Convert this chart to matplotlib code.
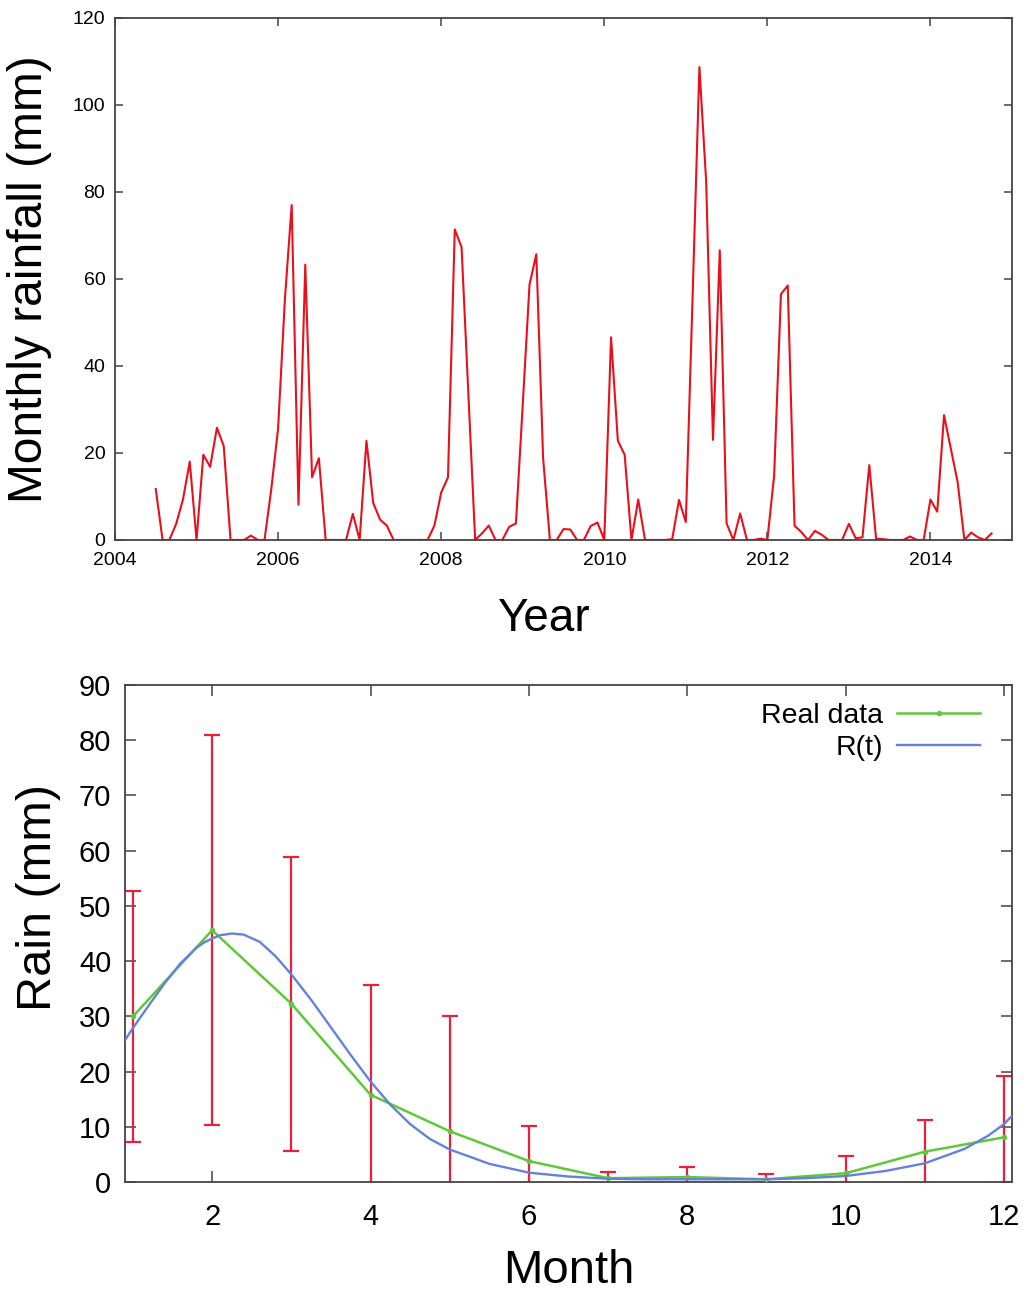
import numpy as np

import matplotlib
matplotlib.use('Agg')
matplotlib.rcParams['font.family'] = ['Liberation Sans', 'DejaVu Sans']
matplotlib.rcParams['axes.linewidth'] = 1.3
matplotlib.rcParams['axes.edgecolor'] = '#444444'
import matplotlib.pyplot as plt

# monthly rainfall (mm), series starts July 2004, ends October 2014
rain2004 = [11.7, 0, 0, 3.7, 9.3, 18.0]
rain2005 = [0, 19.6, 16.8, 25.8, 21.6, 0, 0, 0, 1.0, 0, 0, 11.7]
rain2006 = [25.6, 55.3, 77.0, 8.1, 63.3, 14.4, 18.8, 0, 0, 0, 0, 6.0]
rain2007 = [0, 22.8, 8.5, 4.7, 3.3, 0, 0, 0, 0, 0, 0, 3.3]
rain2008 = [10.9, 14.4, 71.4, 67.3, 33.6, 0, 1.5, 3.3, 0, 0, 3.0, 3.8]
rain2009 = [31.0, 58.7, 65.7, 18.8, 0, 0, 2.5, 2.4, 0, 0, 3.2, 4.0]
rain2010 = [0, 46.6, 22.8, 19.6, 0, 9.3, 0, 0, 0, 0, 0.2, 9.2]
rain2011 = [4.1, 56.0, 108.7, 82.3, 23.0, 66.6, 3.8, 0, 6.1, 0, 0, 0.3]
rain2012 = [0, 14.8, 56.5, 58.5, 3.3, 1.8, 0, 2.1, 1.2, 0, 0, 0]
rain2013 = [3.7, 0.4, 0.6, 17.2, 0.3, 0.2, 0, 0, 0, 0.8, 0, 0]
rain2014 = [9.3, 6.5, 28.7, 21.0, 13.3, 0, 1.7, 0.6, 0, 1.5]
startYear = 2004
startMonth = 7

# monthly means with standard deviation
months = [1, 2, 3, 4, 5, 6, 7, 8, 9, 10, 11, 12]
meanRain = [30.0, 45.6, 32.3, 15.8, 9.2, 3.8, 0.7, 0.9, 0.5, 1.6, 5.5, 8.1]
stdRain = [22.7, 35.3, 26.6, 19.9, 20.8, 6.3, 1.2, 1.9, 0.9, 3.1, 5.8, 11.1]

# fitted curve R(t)
fitT = [0.9, 1.0, 1.2, 1.4, 1.6, 1.8, 1.9, 2.0, 2.1, 2.25, 2.4, 2.6, 2.8,
        3.0, 3.25, 3.5, 3.75, 4.0, 4.25, 4.5, 4.75, 5.0, 5.5, 6.0, 6.5,
        7.0, 7.5, 8.0, 8.5, 9.0, 9.5, 10.0, 10.5, 11.0, 11.5, 11.8, 12.0, 12.1]
fitR = [25.7, 27.9, 32.0, 36.0, 39.6, 42.4, 43.4, 44.1, 44.7, 45.0, 44.8,
        43.5, 40.9, 37.6, 33.0, 28.0, 23.0, 18.2, 14.0, 10.5, 7.8, 5.9, 3.3,
        1.7, 1.0, 0.6, 0.5, 0.5, 0.5, 0.5, 0.7, 1.1, 2.0, 3.4, 6.0, 8.4,
        10.5, 12.0]

monthly = np.array(rain2004 + rain2005 + rain2006 + rain2007 + rain2008 + rain2009 +
                   rain2010 + rain2011 + rain2012 + rain2013 + rain2014)
years = startYear + (startMonth - 1 + np.arange(len(monthly))) / 12.

fig = plt.figure(figsize=(10.25, 12.93), dpi=100)

# top panel
ax1 = fig.add_axes([0.1122, 0.5824, 0.8751, 0.4037])
ax1.plot(years, monthly, color='#e8101c', linewidth=1.5)
ax1.set_xlim([2004, 2015])
ax1.set_ylim([0, 120])
ax1.set_xticks([2004, 2006, 2008, 2010, 2012, 2014])
ax1.set_yticks([0, 20, 40, 60, 80, 100, 120])
ax1.tick_params(direction='in', top=True, right=True, length=6, width=1.1,
                labelsize=14, color='#444444')
ax1.tick_params(axis='x', pad=9)
ax1.tick_params(axis='y', pad=7)
ax1.set_xlabel('Year', fontsize=33)
ax1.set_ylabel('Monthly rainfall (mm)', fontsize=34.5)
ax1.xaxis.set_label_coords(0.477, -0.11)
ax1.yaxis.set_label_coords(-0.07, 0.5)

# bottom panel
ax2 = fig.add_axes([0.1220, 0.0858, 0.8653, 0.3844])
ax2.errorbar(months, meanRain, yerr=stdRain, fmt='none', ecolor='#e8203c',
             elinewidth=1.6, capsize=6, capthick=1.6, zorder=2)
ax2.plot(months, meanRain, color='#5ec83a', linewidth=1.8, marker='o',
         markersize=3, label='Real data', zorder=3)
ax2.plot(fitT, fitR, color='#6482d8', linewidth=1.7, label='R(t)', zorder=4)
ax2.set_xlim([0.9, 12.1])
ax2.set_ylim([0, 90])
ax2.set_xticks([2, 4, 6, 8, 10, 12])
ax2.set_yticks([0, 10, 20, 30, 40, 50, 60, 70, 80, 90])
ax2.tick_params(direction='in', top=True, right=True, length=8, width=1.1,
                labelsize=21, color='#444444')
ax2.tick_params(axis='x', pad=15)
ax2.tick_params(axis='y', pad=10)
ax2.set_xlabel('Month', fontsize=34)
ax2.set_ylabel('Rain (mm)', fontsize=35)
ax2.xaxis.set_label_coords(0.5, -0.135)
ax2.yaxis.set_label_coords(-0.072, 0.573)
ax2.legend(loc='upper right', bbox_to_anchor=(0.9735, 0.981), frameon=False,
           markerfirst=False, fontsize=20.5, handlelength=2.9,
           handletextpad=0.5, labelspacing=0.2, borderaxespad=0.0,
           borderpad=0.3)

plt.savefig('out.png', format='png', dpi=100)
